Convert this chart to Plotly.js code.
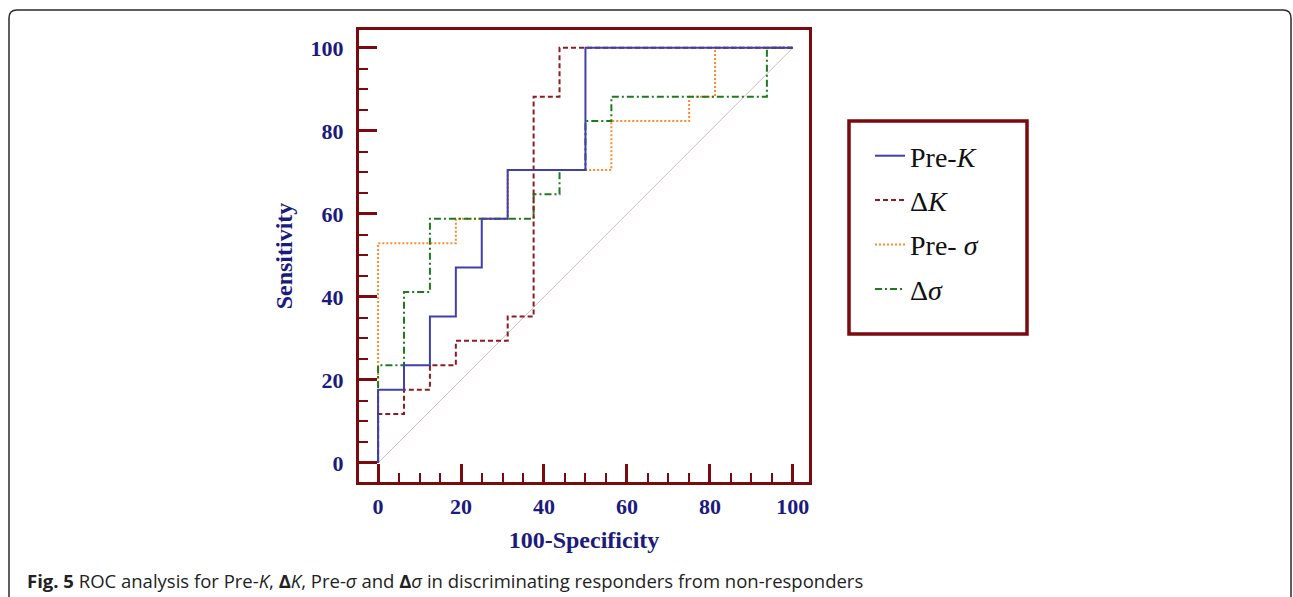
<!DOCTYPE html>
<html>
<head>
<meta charset="utf-8">
<script src="https://cdn.plot.ly/plotly-3.0.1.min.js"></script>
<style>
html,body{margin:0;padding:0;background:#fff;}
#chart{width:1293px;height:597px;}
</style>
</head>
<body>
<div id="chart"></div>
<script>
// ROC step curves (100-Specificity, Sensitivity)
const preK_x   = [0, 0, 6.25, 6.25, 12.5, 12.5, 18.75, 18.75, 25, 25, 31.25, 31.25, 50, 50, 100];
const preK_y   = [0, 17.65, 17.65, 23.53, 23.53, 35.29, 35.29, 47.06, 47.06, 58.82, 58.82, 70.59, 70.59, 100, 100];
const dK_x     = [0, 0, 6.25, 6.25, 12.5, 12.5, 18.75, 18.75, 31.25, 31.25, 37.5, 37.5, 43.75, 43.75, 100];
const dK_y     = [0, 11.76, 11.76, 17.65, 17.65, 23.53, 23.53, 29.41, 29.41, 35.29, 35.29, 88.24, 88.24, 100, 100];
const preS_x   = [0, 0, 18.75, 18.75, 31.25, 31.25, 56.25, 56.25, 75, 75, 81.25, 81.25, 100];
const preS_y   = [0, 52.94, 52.94, 58.82, 58.82, 70.59, 70.59, 82.35, 82.35, 88.24, 88.24, 100, 100];
const dS_x     = [0, 0, 6.25, 6.25, 12.5, 12.5, 37.5, 37.5, 43.75, 43.75, 50, 50, 56.25, 56.25, 93.75, 93.75, 100];
const dS_y     = [0, 23.53, 23.53, 41.18, 41.18, 58.82, 58.82, 64.71, 64.71, 70.59, 70.59, 82.35, 82.35, 88.24, 88.24, 100, 100];
const diag_x   = [0, 100];
const diag_y   = [0, 100];
const seriesNames = ["Pre-<i>K</i>", "Δ<i>K</i>", "Pre- <i>σ</i>", "Δ<i>σ</i>"];
const tickVals = [0, 20, 40, 60, 80, 100];
const tickText = ["0", "20", "40", "60", "80", "100"];

const frame = "#7a0a0e";
const navy = "#1b1b7e";
const serif = "Liberation Serif, Times New Roman, serif";

const traces = [
  {x: diag_x, y: diag_y, mode: "lines", line: {color: "#d2bcc0", width: 1}, showlegend: false, hoverinfo: "skip"},
  {x: preS_x, y: preS_y, name: seriesNames[2], mode: "lines", line: {color: "#ff8a2a", width: 2, dash: "2px,2px"}, legendgroup: "c", legendrank: 3},
  {x: dS_x, y: dS_y, name: seriesNames[3], mode: "lines", line: {color: "#1f7a1f", width: 2, dash: "7px,3px,2px,3px"}, legendgroup: "d", legendrank: 4},
  {x: dK_x, y: dK_y, name: seriesNames[1], mode: "lines", line: {color: "#8e1b22", width: 2, dash: "5px,3px"}, legendgroup: "b", legendrank: 2},
  {x: preK_x, y: preK_y, name: seriesNames[0], mode: "lines", line: {color: "#4040aa", width: 2}, legendgroup: "a", legendrank: 1}
];

function px(v){ return (v - 359) / 450; }
function py(v){ return (482 - v) / 452; }

const layout = {
  width: 1293, height: 597,
  margin: {l: 359, r: 484, t: 30, b: 115},
  paper_bgcolor: "#fff", plot_bgcolor: "#fff",
  showlegend: true,
  xaxis: {
    range: [-4.6, 103.9], showgrid: false, zeroline: false,
    showline: true, mirror: true, linecolor: frame, linewidth: 3,
    ticks: "inside", ticklen: 18, tickwidth: 3, tickcolor: frame,
    tickmode: "array", tickvals: tickVals, ticktext: tickText,
    minor: {tickmode: "linear", tick0: 0, dtick: 5, ticks: "inside", ticklen: 9, tickwidth: 2, tickcolor: frame, showgrid: false},
    tickfont: {family: serif, size: 22, color: navy, weight: "bold"},
    ticklabelstandoff: 3,
    title: {text: "<b>100-Specificity</b>", font: {family: serif, size: 24, color: navy}, standoff: 13},
    fixedrange: true
  },
  yaxis: {
    range: [-4.6, 104.3], showgrid: false, zeroline: false,
    showline: true, mirror: true, linecolor: frame, linewidth: 3,
    ticks: "inside", ticklen: 18, tickwidth: 3, tickcolor: frame,
    tickmode: "array", tickvals: tickVals, ticktext: tickText,
    minor: {tickmode: "linear", tick0: 0, dtick: 5, ticks: "inside", ticklen: 9, tickwidth: 2, tickcolor: frame, showgrid: false},
    tickfont: {family: serif, size: 22, color: navy, weight: "bold"},
    ticklabelstandoff: 8,
    title: {text: "<b>Sensitivity</b>", font: {family: serif, size: 24, color: navy}, standoff: 12},
    fixedrange: true
  },
  legend: {
    x: px(870), y: py(131), xanchor: "left", yanchor: "top",
    borderwidth: 0, bgcolor: "rgba(0,0,0,0)",
    font: {family: serif, size: 28, color: "#111"},
    tracegroupgap: 5, traceorder: "grouped"
  },
  shapes: [
    {type: "path", xref: "paper", yref: "paper",
     path: "M " + px(9) + "," + py(600) + " L " + px(9) + "," + py(18) + " Q " + px(9) + "," + py(10) + " " + px(17) + "," + py(10) +
           " L " + px(1283) + "," + py(10) + " Q " + px(1291) + "," + py(10) + " " + px(1291) + "," + py(18) + " L " + px(1291) + "," + py(600),
     line: {color: "#2a2a2a", width: 1.5}, layer: "below"},
    {type: "rect", xref: "paper", yref: "paper", x0: px(849), x1: px(1027), y0: py(121), y1: py(334),
     line: {color: frame, width: 3.5}, fillcolor: "rgba(0,0,0,0)", layer: "above"}
  ],
  annotations: [
    {xref: "paper", yref: "paper", x: px(25), y: py(580), xanchor: "left", yanchor: "middle", showarrow: false,
     text: "<b>Fig. 5</b> ROC analysis for Pre-<i>K</i>, <b>Δ</b><i>K</i>, Pre-<i>σ</i> and <b>Δ</b><i>σ</i> in discriminating responders from non-responders",
     font: {family: "Open Sans, sans-serif", size: 18.5, color: "#222"}}
  ]
};

Plotly.newPlot("chart", traces, layout, {staticPlot: true, displayModeBar: false});
</script>
</body>
</html>
